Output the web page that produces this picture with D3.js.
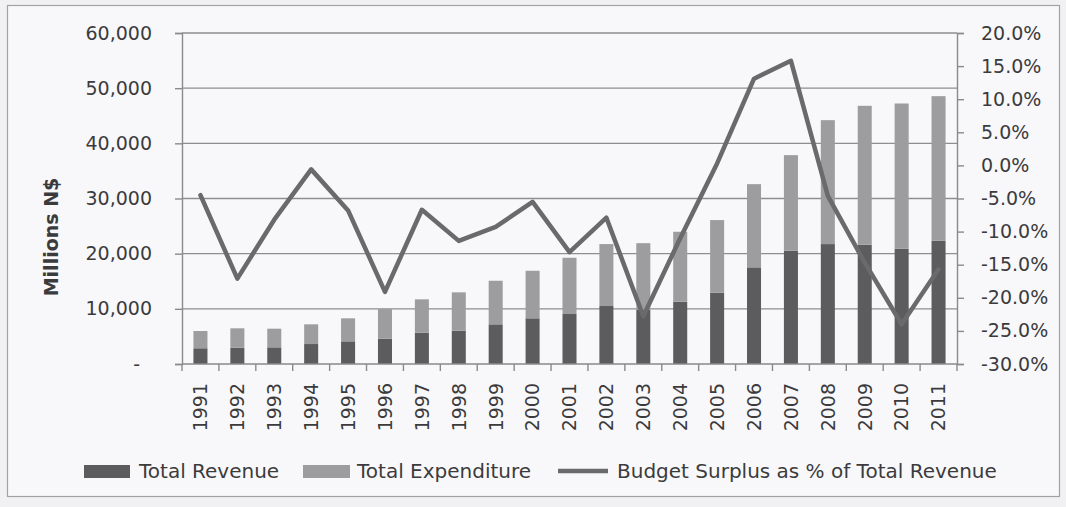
<!DOCTYPE html>
<html>
<head>
<meta charset="utf-8">
<script src="https://cdn.jsdelivr.net/npm/d3@7"></script>
<style>
  html, body { margin: 0; padding: 0; background: #f1f1f3; }
  svg { display: block; }
</style>
</head>
<body>
<svg id="chart" width="1066" height="507"></svg>
<script>
// Namibia budget, millions N$, 1991-2011
const years = ["1991","1992","1993","1994","1995","1996","1997","1998","1999","2000",
               "2001","2002","2003","2004","2005","2006","2007","2008","2009","2010","2011"];
const totalRevenue = [2850, 2960, 3020, 3620, 4110, 4590, 5680, 6040, 7190, 8280,
                      9060, 10510, 9800, 11290, 12920, 17520, 20530, 21740, 21620, 20890, 22340];
const totalExpenditure = [3130, 3510, 3380, 3570, 4170, 5370, 6040, 6950, 7900, 8620,
                          10200, 11230, 12100, 12680, 13170, 15080, 17330, 22460, 25180, 26330, 26210];
const surplusPct = [-4.5, -17.1, -8.2, -0.6, -6.8, -19.1, -6.7, -11.4, -9.3, -5.5,
                    -13.1, -7.9, -22.8, -11.0, 0.3, 13.1, 15.8, -4.6, -14.7, -24.0, -15.7];
const leftTicks = [0, 10000, 20000, 30000, 40000, 50000, 60000];
const rightTicks = [-30, -25, -20, -15, -10, -5, 0, 5, 10, 15, 20];
const legendLabels = ["Total Revenue", "Total Expenditure", "Budget Surplus as % of Total Revenue"];

const C = {
  revenue: "#5c5c5e",
  expenditure: "#9d9d9f",
  line: "#6a6a6c",
  grid: "#8e8e90",
  axis: "#8a8a8c",
  text: "#3b3b3d"
};
const FONT = "'DejaVu Sans', sans-serif";

const svg = d3.select("#chart");
const L = 182, R = 957, T = 33, B = 364;

// page and chart frame
svg.append("rect").attr("x", 7.5).attr("y", 5.5).attr("width", 1052).attr("height", 491)
  .attr("fill", "#f8f8fa").attr("stroke", "#a2a2a4").attr("stroke-width", 1.2);

const x = d3.scaleBand().domain(years).range([L, R]).paddingInner(0.62).paddingOuter(0.31);
const xEdge = d3.scaleBand().domain(years).range([L, R]).padding(0);
const yL = d3.scaleLinear().domain([0, 60000]).range([B, T]);
const yR = d3.scaleLinear().domain([-30, 20]).range([B, T]);

// horizontal gridlines
svg.append("g").selectAll("line").data(leftTicks.filter(d => d > 0)).join("line")
  .attr("x1", L).attr("x2", R)
  .attr("y1", d => yL(d)).attr("y2", d => yL(d))
  .attr("stroke", C.grid).attr("stroke-width", 1.4);

// stacked columns
const stack = years.map((yr, i) => ({ yr, rev: totalRevenue[i], exp: totalExpenditure[i] }));
const bars = svg.append("g");
bars.selectAll("rect.rev").data(stack).join("rect").attr("class", "rev")
  .attr("x", d => x(d.yr)).attr("width", x.bandwidth())
  .attr("y", d => yL(d.rev)).attr("height", d => yL(0) - yL(d.rev))
  .attr("fill", C.revenue);
bars.selectAll("rect.exp").data(stack).join("rect").attr("class", "exp")
  .attr("x", d => x(d.yr)).attr("width", x.bandwidth())
  .attr("y", d => yL(d.rev + d.exp)).attr("height", d => yL(d.rev) - yL(d.rev + d.exp))
  .attr("fill", C.expenditure);

// left axis
const axL = svg.append("g").attr("transform", `translate(${L},0)`)
  .call(d3.axisLeft(yL).tickValues(leftTicks).tickSize(7).tickPadding(23)
    .tickFormat(d => d === 0 ? "-" : d3.format(",")(d)));
axL.select(".domain").attr("stroke", C.axis).attr("stroke-width", 1.4);
axL.selectAll(".tick line").attr("stroke", C.axis).attr("stroke-width", 1.4);
axL.selectAll(".tick text").attr("font-family", FONT).attr("font-size", 19).attr("fill", C.text)
  .attr("dx", d => d === 0 ? -12 : 0);

// right axis
const axR = svg.append("g").attr("transform", `translate(${R},0)`)
  .call(d3.axisRight(yR).tickValues(rightTicks).tickSize(7).tickPadding(17)
    .tickFormat(d => d.toFixed(1) + "%"));
axR.select(".domain").attr("stroke", C.axis).attr("stroke-width", 1.4);
axR.selectAll(".tick line").attr("stroke", C.axis).attr("stroke-width", 1.4);
axR.selectAll(".tick text").attr("font-family", FONT).attr("font-size", 19).attr("fill", C.text);

// bottom axis: baseline, boundary ticks, rotated year labels
svg.append("line").attr("x1", L).attr("x2", R).attr("y1", B).attr("y2", B)
  .attr("stroke", C.axis).attr("stroke-width", 1.4);
const edges = years.map(d => xEdge(d)).concat([R]);
svg.append("g").selectAll("line").data(edges).join("line")
  .attr("x1", d => d).attr("x2", d => d).attr("y1", B).attr("y2", B + 7)
  .attr("stroke", C.axis).attr("stroke-width", 1.4);
svg.append("g").selectAll("text").data(years).join("text")
  .attr("transform", d => `translate(${x(d) + x.bandwidth() / 2},383) rotate(-90)`)
  .attr("text-anchor", "end").attr("dy", "0.36em")
  .attr("font-family", FONT).attr("font-size", 19).attr("fill", C.text)
  .text(d => d);

// surplus line on the right-hand scale
const line = d3.line()
  .x((d, i) => x(years[i]) + x.bandwidth() / 2)
  .y(d => yR(d));
svg.append("path").datum(surplusPct)
  .attr("d", line).attr("fill", "none")
  .attr("stroke", C.line).attr("stroke-width", 4.5)
  .attr("stroke-linejoin", "round").attr("stroke-linecap", "round");

// y-axis title
svg.append("text")
  .attr("transform", "translate(57.5,237) rotate(-90)")
  .attr("text-anchor", "middle")
  .attr("font-family", FONT).attr("font-size", 19).attr("font-weight", "bold").attr("fill", C.text)
  .text("Millions N$");

// legend
const lg = svg.append("g").attr("font-family", FONT).attr("font-size", 20).attr("fill", C.text);
lg.append("rect").attr("x", 84).attr("y", 465).attr("width", 46).attr("height", 13).attr("fill", C.revenue);
lg.append("text").attr("x", 139).attr("y", 478).text(legendLabels[0]);
lg.append("rect").attr("x", 303).attr("y", 465).attr("width", 47).attr("height", 13).attr("fill", C.expenditure);
lg.append("text").attr("x", 357).attr("y", 478).text(legendLabels[1]);
lg.append("line").attr("x1", 558).attr("x2", 608).attr("y1", 471).attr("y2", 471)
  .attr("stroke", C.line).attr("stroke-width", 4.5);
lg.append("text").attr("x", 617).attr("y", 478).text(legendLabels[2]);
</script>
</body>
</html>
